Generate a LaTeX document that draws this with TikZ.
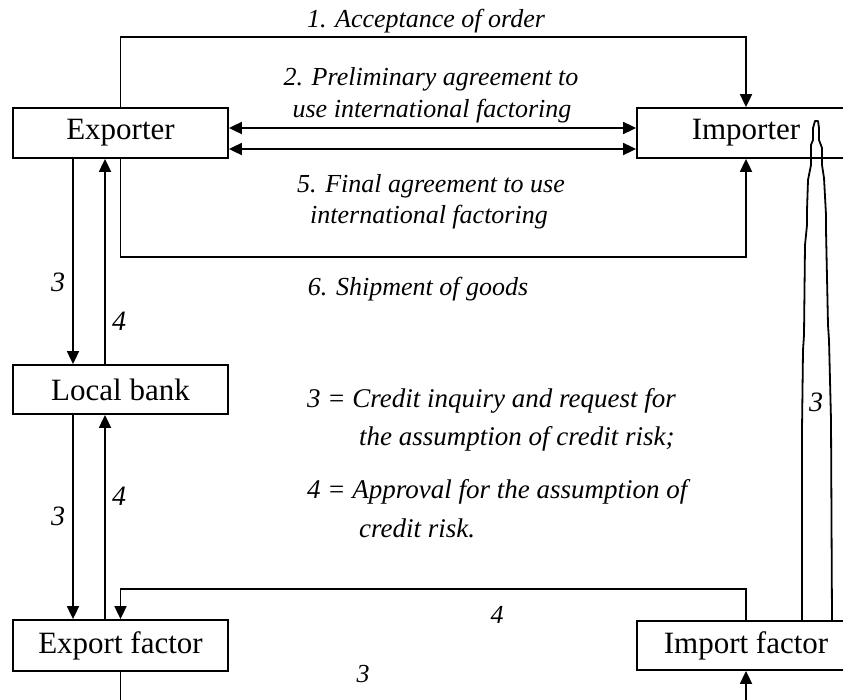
\documentclass[tikz,border=0pt]{standalone}
\usepackage{fontspec}
\setmainfont{Liberation Serif}
\usetikzlibrary{arrows.meta}
\begin{document}
\begin{tikzpicture}[x=1pt,y=-1pt,
  box/.style={draw,line width=1.8pt,minimum width=215pt,minimum height=50pt,inner sep=0pt,font=\fontsize{31}{36}\selectfont},
  lab/.style={font=\fontsize{26}{31}\selectfont\itshape,inner sep=0pt},
  leg/.style={font=\fontsize{27}{32}\selectfont\itshape,inner sep=0pt},
  dig/.style={font=\fontsize{28}{32}\selectfont\itshape,inner sep=0pt},
  arr/.style={line width=1.8pt,-{Triangle[length=13pt,width=12pt]}},
  arrb/.style={line width=1.8pt,{Triangle[length=13pt,width=12pt]}-{Triangle[length=13pt,width=12pt]}},
  ln/.style={line width=1.8pt,line join=round}]
\useasboundingbox (0,0) rectangle (843,699);
\clip (0,0) rectangle (843,699);

\node[box] (exp) at (120.5,133) {Exporter};
\node[box,minimum width=218pt] (imp) at (746,133) {Importer};
\node[box,minimum height=49pt] (lb) at (120.5,389.5) {Local bank};
\node[box,minimum height=51pt] (exf) at (120.5,645.5) {Export factor};
\node[box,minimum width=218pt,minimum height=49pt] (imf) at (746,645.5) {Import factor};

\coordinate (y1) at (0,37);
\coordinate (y2a) at (0,128);
\coordinate (y2b) at (0,149);
\coordinate (y6) at (0,257);
\coordinate (y4) at (0,589);
\coordinate (y3) at (0,730);
\coordinate (xl) at (73,0);
\coordinate (xr) at (105,0);

\draw[arr] (exp.north) -- (exp.north |- y1) -| (imp.north);
\draw[arrb] (exp.east |- y2a) -- (imp.west |- y2a);
\draw[arrb] (exp.east |- y2b) -- (imp.west |- y2b);
\draw[arr] (exp.south) -- (exp.south |- y6) -| (imp.south);
\draw[arr] (xl |- exp.south) -- (xl |- lb.north);
\draw[arr] (xr |- lb.north) -- (xr |- exp.south);
\draw[arr] (xl |- lb.south) -- (xl |- exf.north);
\draw[arr] (xr |- exf.north) -- (xr |- lb.south);
\draw[arr] (imf.north) -- (imf.north |- y4) -| (exf.north);
\draw[arr] (exf.south) -- (exf.south |- y3) -| (imf.south);

\draw[ln] (802,621) -- (802,430) -- (803,350) -- (804,335) -- (805,245) -- (807,225)
  -- (807,210) -- (808,180) -- (811,165) -- (811,145) -- (813,140) -- (813,128)
  -- (815,121) -- (818,121) -- (819,128) -- (819,140) -- (822,148) -- (822,165)
  -- (824,178) -- (826,215) -- (826,230) -- (828,325) -- (829,340) -- (831,420) -- (832,621);

\node[lab,anchor=base] (l1) at (426,27) {1. Acceptance of order};
\node[lab,anchor=base] (l2a) at (431,85) {2. Preliminary agreement to};
\node[lab,anchor=base] (l2b) at (432,117) {use international factoring};
\node[lab,anchor=base] (l5a) at (431,192) {5. Final agreement to use};
\node[lab,anchor=base] (l5b) at (429,223) {international factoring};
\node[lab,anchor=base] (l6) at (418,295) {6. Shipment of goods};

\node[leg,anchor=base west] (g1) at (307,407) {3 = Credit inquiry and request for};
\node[leg,anchor=base west] (g2) at (359,445) {the assumption of credit risk;};
\node[leg,anchor=base west] (g3) at (307,498) {4 = Approval for the assumption of};
\node[leg,anchor=base west] (g4) at (359,537) {credit risk.};

\node[dig] (d1) at (58,282) {3};
\node[dig] (d2) at (119,321) {4};
\node[dig] (d3) at (58,516) {3};
\node[dig] (d4) at (119,496) {4};
\node[lab] (d5) at (497,615) {4};
\node[lab] (d6) at (363,674) {3};
\node[dig] (d7) at (816,402) {3};
\end{tikzpicture}
\end{document}
